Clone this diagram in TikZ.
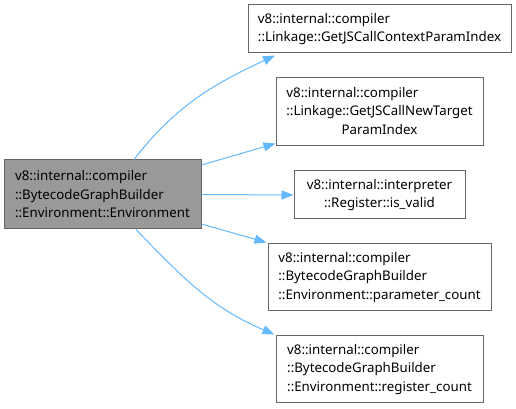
\documentclass[tikz,border=0pt]{standalone}
\usepackage{fontspec}
\setmainfont{Noto Sans}
\usetikzlibrary{arrows.meta}
\definecolor{edgeblue}{HTML}{63B8FF}
\definecolor{boxgray}{HTML}{666666}
\definecolor{mainfill}{HTML}{999999}
\tikzset{
  fnbox/.style={draw=boxgray, line width=1pt, fill=white, inner sep=0pt, align=left,
    font=\fontsize{13.3}{18.5}\selectfont},
  callarrow/.style={draw=edgeblue, line width=1pt, -{Triangle[length=12pt,width=9pt]}}
}
\begin{document}
\begin{tikzpicture}[x=1pt,y=1pt]
    \useasboundingbox (0,0) rectangle (516,409);
    % caller
    \node[fnbox, fill=mainfill, minimum width=197pt, minimum height=69pt] (env) at (102.5,214.5)
      {v8::internal::compiler\\::BytecodeGraphBuilder\\::Environment::Environment};
    % callees
    \node[fnbox, minimum width=263pt, minimum height=48pt] (ctxidx) at (379.5,380)
      {v8::internal::compiler\\::Linkage::GetJSCallContextParamIndex};
    \node[fnbox, minimum width=207pt, minimum height=68pt] (ntidx) at (379.5,297)
      {\begin{tabular}{@{}l@{}}v8::internal::compiler\\::Linkage::GetJSCallNewTarget\\\multicolumn{1}{@{}c@{}}{ParamIndex}\end{tabular}};
    \node[fnbox, align=center, minimum width=171pt, minimum height=48pt] (isvalid) at (379.5,214)
      {v8::internal::interpreter\\::Register::is\_valid};
    \node[fnbox, minimum width=223pt, minimum height=67pt] (parcount) at (379.5,131.5)
      {v8::internal::compiler\\::BytecodeGraphBuilder\\::Environment::parameter\_count};
    \node[fnbox, minimum width=207pt, minimum height=67pt] (regcount) at (379.5,39.5)
      {v8::internal::compiler\\::BytecodeGraphBuilder\\::Environment::register\_count};
    % arrows
    \draw[callarrow] ([xshift=31.5pt]env.north) to[out=52, in=205] ([xshift=-104.5pt, yshift=-2pt]ctxidx.south);
    \draw[callarrow] ([yshift=29.5pt]env.east) -- ([yshift=3pt]ntidx.south west);
    \draw[callarrow] (env.east) -- (isvalid.west);
    \draw[callarrow] ([yshift=-29.5pt]env.east) -- ([xshift=-1pt, yshift=1pt]parcount.north west);
    \draw[callarrow] ([xshift=33.5pt]env.south) to[out=-46, in=157] ([xshift=-1pt, yshift=1pt]regcount.north west);
\end{tikzpicture}
\end{document}
